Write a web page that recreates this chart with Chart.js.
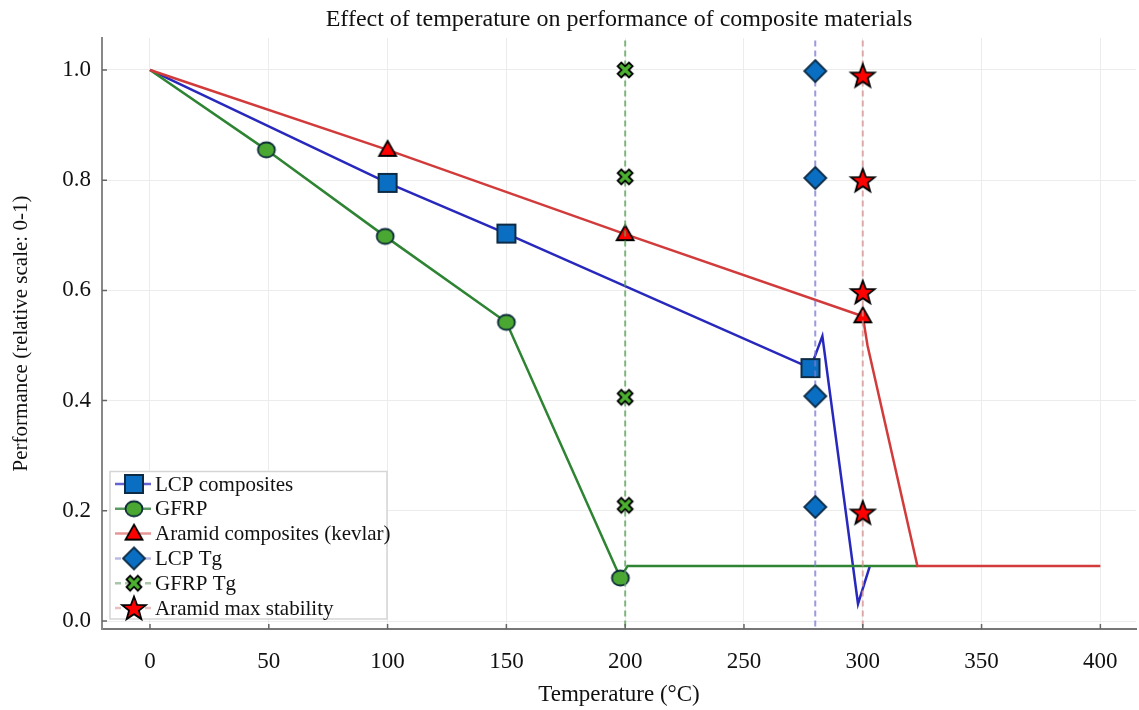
<!DOCTYPE html>
<html>
<head>
<meta charset="utf-8">
<script src="https://cdn.jsdelivr.net/npm/chart.js@4.4.1/dist/chart.umd.min.js"></script>
<style>
  html, body { margin: 0; padding: 0; background: #fff; }
  #wrap { width: 1139px; height: 710px; }
</style>
</head>
<body>
<div id="wrap"><canvas id="chart"></canvas></div>
<script>
// Axis ticks
const X_TICKS = [0, 50, 100, 150, 200, 250, 300, 350, 400];
const Y_TICKS = [0, 0.2, 0.4, 0.6, 0.8, 1.0];
const X_MIN = -20.2, X_MAX = 415;
const Y_MIN = -0.0145, Y_MAX = 1.058;

// Material curves
const LCP_X = [0, 100, 150, 278, 283, 298, 303];
const LCP_Y = [1.0, 0.795, 0.703, 0.459, 0.517, 0.031, 0.10];
const LCP_MARKED = [1, 2, 3];

const GFRP_X = [0, 49, 99, 150, 198, 201, 323];
const GFRP_Y = [1.0, 0.855, 0.698, 0.542, 0.078, 0.10, 0.10];
const GFRP_MARKED = [1, 2, 3, 4];

const ARAMID_X = [0, 100, 200, 300, 302, 323, 400];
const ARAMID_Y = [1.0, 0.855, 0.702, 0.553, 0.50, 0.10, 0.10];
const ARAMID_MARKED = [1, 2, 3];

// Reference temperatures and their marker heights
const LCP_TG = 280;
const LCP_TG_Y = [0.207, 0.408, 0.804, 0.998];
const GFRP_TG = 200;
const GFRP_TG_Y = [0.21, 0.406, 0.806, 1.0];
const ARAMID_MAX = 300;
const ARAMID_MAX_Y = [0.197, 0.597, 0.80, 0.99];

const FONT = '"Liberation Serif", "Times New Roman", serif';

// marker images
function marker(w, h, draw) {
  const c = document.createElement('canvas');
  c.width = w; c.height = h;
  const g = c.getContext('2d');
  g.translate(w / 2, h / 2);
  draw(g);
  return c;
}
const squareMk = marker(22, 22, g => {
  g.fillStyle = '#0a6fc2'; g.strokeStyle = '#0d2b45'; g.lineWidth = 2;
  g.fillRect(-9, -9, 18, 18); g.strokeRect(-9, -9, 18, 18);
});
const circleMk = marker(22, 20, g => {
  g.beginPath(); g.ellipse(0, 0, 8.5, 7.5, 0, 0, Math.PI * 2);
  g.fillStyle = '#4aa832'; g.fill();
  g.strokeStyle = '#0d2b3a'; g.lineWidth = 1.8; g.stroke();
});
const triangleMk = marker(22, 22, g => {
  g.beginPath(); g.moveTo(0, -9); g.lineTo(8.5, 6); g.lineTo(-8.5, 6); g.closePath();
  g.fillStyle = '#ff0000'; g.fill();
  g.strokeStyle = '#000'; g.lineWidth = 1.8; g.lineJoin = 'miter'; g.stroke();
});
const diamondMk = marker(26, 26, g => {
  g.beginPath(); g.moveTo(0, -11); g.lineTo(11, 0); g.lineTo(0, 11); g.lineTo(-11, 0); g.closePath();
  g.fillStyle = '#0a6fc2'; g.fill();
  g.strokeStyle = '#0d2b45'; g.lineWidth = 1.8; g.stroke();
});
const crossMk = marker(22, 22, g => {
  const a = 2.6, L = 8;
  const pts = [[a,-L],[a,-a],[L,-a],[L,a],[a,a],[a,L],[-a,L],[-a,a],[-L,a],[-L,-a],[-a,-a],[-a,-L]];
  g.rotate(Math.PI / 4);
  g.beginPath();
  pts.forEach((p, i) => i ? g.lineTo(p[0], p[1]) : g.moveTo(p[0], p[1]));
  g.closePath();
  g.fillStyle = '#4cb030'; g.fill();
  g.strokeStyle = '#000'; g.lineWidth = 1.8; g.stroke();
});
const starMk = marker(30, 30, g => {
  g.beginPath();
  for (let i = 0; i < 10; i++) {
    const r = i % 2 ? 5.2 : 12.5;
    const t = -Math.PI / 2 + i * Math.PI / 5;
    i ? g.lineTo(r * Math.cos(t), r * Math.sin(t) + 1) : g.moveTo(r * Math.cos(t), r * Math.sin(t) + 1);
  }
  g.closePath();
  g.fillStyle = '#ff0000'; g.fill();
  g.strokeStyle = '#000'; g.lineWidth = 1.8; g.stroke();
});

const pts = (xs, ys) => xs.map((x, i) => ({ x, y: ys[i] }));
const vline = (x, ys) => [{ x, y: Y_MIN - 0.05 }, ...ys.map(y => ({ x, y })), { x, y: Y_MAX + 0.05 }];
const markAt = list => ctx => list.includes(ctx.dataIndex) ? 6 : 0;
const markInner = ctx => (ctx.dataIndex > 0 && ctx.dataIndex < ctx.dataset.data.length - 1) ? 6 : 0;

const datasets = [
  { label: 'LCP composites', data: pts(LCP_X, LCP_Y), borderColor: '#2828bd', borderWidth: 2.5,
    pointStyle: squareMk, pointRadius: markAt(LCP_MARKED), legendColor: 'rgba(60,60,200,0.8)', order: 6 },
  { label: 'GFRP', data: pts(GFRP_X, GFRP_Y), borderColor: '#2e8433', borderWidth: 2.5,
    pointStyle: circleMk, pointRadius: markAt(GFRP_MARKED), legendColor: 'rgba(50,130,60,0.8)', order: 5 },
  { label: 'Aramid composites (kevlar)', data: pts(ARAMID_X, ARAMID_Y), borderColor: '#d23b3b', borderWidth: 2.5,
    pointStyle: triangleMk, pointRadius: markAt(ARAMID_MARKED), legendColor: 'rgba(215,80,80,0.6)', order: 4 },
  { label: 'LCP Tg', data: vline(LCP_TG, LCP_TG_Y), borderColor: 'rgba(120,120,210,0.75)', borderWidth: 2,
    borderDash: [6, 4], pointStyle: diamondMk, pointRadius: markInner, legendColor: 'rgba(140,140,210,0.6)', order: 3 },
  { label: 'GFRP Tg', data: vline(GFRP_TG, GFRP_TG_Y), borderColor: 'rgba(90,160,90,0.75)', borderWidth: 2,
    borderDash: [6, 4], pointStyle: crossMk, pointRadius: markInner, legendColor: 'rgba(110,160,110,0.6)', order: 2 },
  { label: 'Aramid max stability', data: vline(ARAMID_MAX, ARAMID_MAX_Y), borderColor: 'rgba(215,145,145,0.75)', borderWidth: 2,
    borderDash: [6, 4], pointStyle: starMk, pointRadius: markInner, legendColor: 'rgba(215,150,150,0.6)', order: 1 }
];

// inward tick marks on the two axes
const innerTicks = {
  id: 'innerTicks',
  afterDraw(chart) {
    const { ctx, chartArea: a, scales: { x, y } } = chart;
    ctx.save();
    ctx.strokeStyle = '#666'; ctx.lineWidth = 1.5;
    ctx.beginPath();
    X_TICKS.forEach(v => { const px = x.getPixelForValue(v); ctx.moveTo(px, a.bottom); ctx.lineTo(px, a.bottom - 5); });
    Y_TICKS.forEach(v => { const py = y.getPixelForValue(v); ctx.moveTo(a.left, py); ctx.lineTo(a.left + 5, py); });
    ctx.stroke();
    ctx.restore();
  }
};

// legend box in lower left corner, line sample + marker
const boxLegend = {
  id: 'boxLegend',
  afterDraw(chart) {
    const { ctx, chartArea: a } = chart;
    const w = 277, h = 147.5, rowH = 24.8;
    const x0 = a.left + 8, y0 = a.bottom - 10 - h;
    ctx.save();
    ctx.fillStyle = '#fff';
    ctx.fillRect(x0, y0, w, h);
    ctx.strokeStyle = '#d5d5d5'; ctx.lineWidth = 1.5;
    ctx.strokeRect(x0, y0, w, h);
    ctx.font = '21px ' + FONT;
    ctx.textBaseline = 'middle';
    chart.data.datasets.forEach((ds, i) => {
      const cy = y0 + 12.5 + i * rowH;
      ctx.strokeStyle = ds.legendColor;
      ctx.lineWidth = 2.5;
      ctx.setLineDash(ds.borderDash || []);
      ctx.beginPath(); ctx.moveTo(x0 + 5, cy); ctx.lineTo(x0 + 41, cy); ctx.stroke();
      ctx.setLineDash([]);
      const img = ds.pointStyle;
      ctx.drawImage(img, x0 + 24 - img.width / 2, cy - img.height / 2);
      ctx.fillStyle = '#111';
      ctx.fillText(ds.label, x0 + 45, cy + 1);
    });
    ctx.restore();
  }
};

new Chart(document.getElementById('chart'), {
  type: 'line',
  data: { datasets },
  options: {
    responsive: true,
    maintainAspectRatio: false,
    animation: false,
    events: [],
    layout: { padding: { left: 0, right: 3, top: 0, bottom: 0 } },
    elements: { line: { tension: 0, fill: false } },
    plugins: {
      legend: { display: false },
      tooltip: { enabled: false },
      title: {
        display: true,
        fullSize: false,
        text: 'Effect of temperature on performance of composite materials',
        color: '#111',
        font: { family: FONT, size: 24, weight: 'normal' },
        padding: { top: 5, bottom: 4.2 }
      }
    },
    scales: {
      x: {
        type: 'linear',
        min: X_MIN, max: X_MAX,
        afterBuildTicks: s => { s.ticks = X_TICKS.map(v => ({ value: v })); },
        afterFit: s => { s.height = 81; },
        ticks: { color: '#111', font: { family: FONT, size: 23 }, padding: 19 },
        grid: { color: '#ececec', lineWidth: 1, drawTicks: false },
        border: { color: '#777', width: 2 },
        title: { display: true, text: 'Temperature (°C)', color: '#111',
                 font: { family: FONT, size: 23 }, padding: { top: 0, bottom: 1 } }
      },
      y: {
        type: 'linear',
        min: Y_MIN, max: Y_MAX,
        afterBuildTicks: s => { s.ticks = Y_TICKS.map(v => ({ value: v })); },
        afterFit: s => { s.width = 102; },
        ticks: { color: '#111', font: { family: FONT, size: 23 }, padding: 11,
                 callback: v => v.toFixed(1) },
        grid: { color: '#ececec', lineWidth: 1, drawTicks: false },
        border: { color: '#888', width: 2 },
        title: { display: true, text: 'Performance (relative scale: 0-1)', color: '#111',
                 font: { family: FONT, size: 21 }, padding: { top: 9, bottom: 0 } }
      }
    }
  },
  plugins: [innerTicks, boxLegend]
});
</script>
</body>
</html>
